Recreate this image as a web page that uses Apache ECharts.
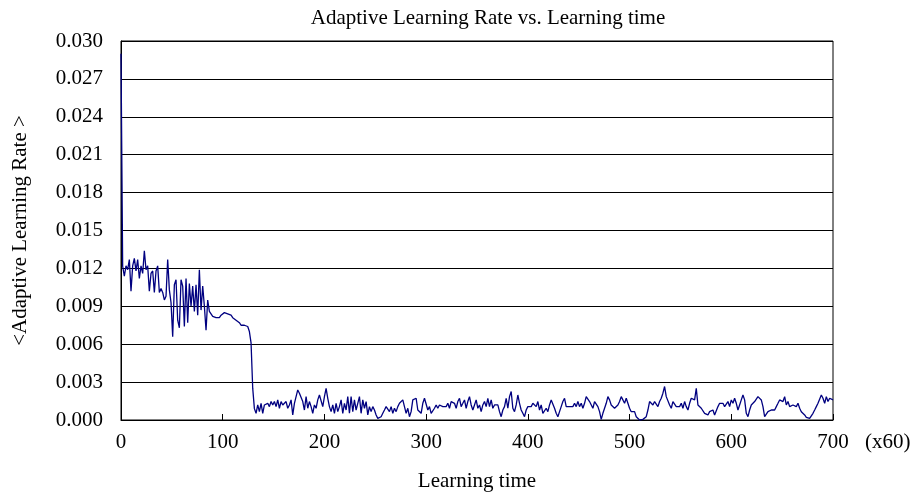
<!DOCTYPE html>
<html>
<head>
<meta charset="utf-8">
<script src="https://cdn.jsdelivr.net/npm/echarts@6/dist/echarts.min.js"></script>
<style>html,body{margin:0;padding:0;background:#fff;}#c{width:910px;height:493px;}</style>
</head>
<body>
<div id="c"></div>
<script>
// Sampling: 428 samples evenly spread over 0..700 (x60) learning time
const T_MAX = 700;
const xTicks = [0, 100, 200, 300, 400, 500, 600, 700];
const yTicks = [0, 0.003, 0.006, 0.009, 0.012, 0.015, 0.018, 0.021, 0.024, 0.027, 0.030];
const titleText = 'Adaptive Learning Rate vs. Learning time';
const xName = 'Learning time';
const yName = '<Adaptive Learning Rate >';
const xUnit = '(x60)';

// learning time 0 .. ~131: initial spike, noisy phase, smooth plateau, drop
const rateStart = [0.0290,
 0.01217, 0.01138, 0.0122, 0.0119, 0.0127, 0.0102, 0.0122, 0.0128, 0.0118, 0.0127,
 0.0112, 0.0122, 0.0116, 0.0134, 0.0119, 0.0122, 0.0102, 0.0116, 0.0118, 0.0101,
 0.0118, 0.0122, 0.0101, 0.0104, 0.0101, 0.0095, 0.0098, 0.0127, 0.0103, 0.0093,
 0.0066, 0.0107, 0.0111, 0.0079, 0.0073, 0.0111, 0.0106, 0.0074, 0.0112, 0.0077,
 0.0108, 0.0090, 0.0106, 0.0086, 0.0107, 0.0083, 0.0119, 0.0087, 0.0106, 0.0090,
 0.0071, 0.0095, 0.0086, 0.0085, 0.0082, 0.0083, 0.0081, 0.0080, 0.0081, 0.0083,
 0.0083, 0.0085, 0.0085, 0.0084, 0.0083, 0.0083, 0.0081, 0.0080, 0.0079, 0.0078,
 0.0077, 0.0075, 0.0075, 0.0075, 0.0074, 0.0074, 0.0070, 0.0061, 0.0025, 0.0009];

// learning time ~133 .. ~262
const rateLow1 = [
 0.00053, 0.00119, 0.00066, 0.00132, 0.00053, 0.00119, 0.00106, 0.00132, 0.00106, 0.00146,
 0.00119, 0.00146, 0.00106, 0.00159, 0.00093, 0.00146, 0.00119, 0.00132, 0.00146, 0.00093,
 0.00119, 0.00159, 0.0004, 0.00132, 0.00185, 0.00238, 0.00212, 0.00225, 0.00146, 0.00079,
 0.00185, 0.00093, 0.00146, 0.00106, 0.00053, 0.00119, 0.00093, 0.00159, 0.00198, 0.00212,
 0.00106, 0.00185, 0.00251, 0.00172, 0.00106, 0.00066, 0.00119, 0.00053, 0.00132, 0.00066,
 0.00106, 0.00159, 0.00053, 0.00132, 0.00079, 0.00185, 0.00053, 0.00185, 0.00066, 0.00159,
 0.00079, 0.00132, 0.00185, 0.00053, 0.00159, 0.00093, 0.00146, 0.0004, 0.00106, 0.00066,
 0.00106, 0.00079, 0.0004, 0.00013, 0.00005, 0.00026, 0.00053, 0.00079, 0.00106, 0.00119];

// learning time ~264 .. ~405
const rateLow2 = [
 0.00066, 0.00106, 0.00053, 0.00093, 0.00066, 0.00106, 0.00132, 0.00146, 0.00159, 0.00106,
 0.00053, 0.00093, 0.00026, 0.00066, 0.00159, 0.00172, 0.00172, 0.00079, 0.00066, 0.00053,
 0.00132, 0.00172, 0.00159, 0.00079, 0.00106, 0.00053, 0.00066, 0.00093, 0.00119, 0.00093,
 0.00119, 0.00106, 0.00106, 0.00119, 0.00106, 0.00132, 0.00093, 0.00146, 0.00159, 0.00132,
 0.00093, 0.00146, 0.00172, 0.00106, 0.00132, 0.00159, 0.00093, 0.00146, 0.00185, 0.00119,
 0.00079, 0.00119, 0.00159, 0.00093, 0.00119, 0.00066, 0.00119, 0.00146, 0.00106, 0.00172,
 0.00106, 0.00159, 0.00093, 0.00119, 0.00106, 0.00119, 0.00066, 0.00026, 0.00079, 0.00106,
 0.00172, 0.00093, 0.00185, 0.00225, 0.00093, 0.00066, 0.00119, 0.00198, 0.00132, 0.00079,
 0.00053, 0.00026, 0.00079, 0.00106, 0.00119, 0.00106, 0.00132];

// learning time ~407 .. ~548
const rateLow3 = [
 0.00132, 0.00106, 0.00146, 0.00079, 0.00119, 0.00053, 0.0004, 0.00093, 0.00066, 0.00119,
 0.00159, 0.00146, 0.00093, 0.00053, 0.00026, 0.00066, 0.00106, 0.00146, 0.00172, 0.00106,
 0.00119, 0.00106, 0.00119, 0.00106, 0.00132, 0.00106, 0.00146, 0.00106, 0.00132, 0.00093,
 0.00132, 0.00185, 0.00172, 0.00146, 0.00132, 0.00093, 0.00146, 0.00132, 0.00106, 0.00066,
 0.00005, 0.00053, 0.00093, 0.00132, 0.00185, 0.00159, 0.00119, 0.00132, 0.00093, 0.00079,
 0.00119, 0.00146, 0.00185, 0.00159, 0.00132, 0.00172, 0.00132, 0.00093, 0.00066, 0.00053,
 0.00066, 0.00026, 0.00032, 0, 0, 0.00005, 0, 0.00026, 0.00079, 0.00146,
 0.00132, 0.00119, 0.00146, 0.00132, 0.00106, 0.00146, 0.00172, 0.00212, 0.00265, 0.00185,
 0.00172, 0.00119, 0.00093, 0.00146, 0.00132, 0.00106, 0.00119];

// learning time ~549 .. 700
const rateLow4 = [
 0.00106, 0.00132, 0.00093, 0.00146, 0.00106, 0.00079, 0.00132, 0.00172, 0.00185, 0.00159,
 0.00251, 0.00119, 0.00132, 0.00093, 0.00106, 0.00053, 0.00066, 0.0004, 0.00066, 0.00053,
 0.00079, 0.0004, 0.00026, 0.00106, 0.00132, 0.00119, 0.00132, 0.00106, 0.00119, 0.00146,
 0.00106, 0.00159, 0.00132, 0.00172, 0.00132, 0.00079, 0.00119, 0.00159, 0.00198, 0.00159,
 0.00053, 0.00026, 0.00079, 0.00119, 0.00106, 0.00146, 0.00159, 0.00185, 0.00198, 0.00159,
 0.00106, 0.00026, 0.0004, 0.00066, 0.00053, 0.00079, 0.00093, 0.00079, 0.00106, 0.00132,
 0.00159, 0.00159, 0.00146, 0.00185, 0.00119, 0.00146, 0.00106, 0.00093, 0.00119, 0.00132,
 0.00106, 0.00132, 0.00093, 0.00066, 0.00053, 0.0004, 0.00021, 0.00026, 0.00013, 0.00026,
 0.00053, 0.00079, 0.00106, 0.00132, 0.00146, 0.00198, 0.00172, 0.00132, 0.00185, 0.00146,
 0.00172, 0.00159, 0.00159];

const rate = [].concat(rateStart, rateLow1, rateLow2, rateLow3, rateLow4);
const step = T_MAX / (rate.length - 1);
const seriesData = rate.map((v, i) => [i * step, v]);

const FONT = "'Liberation Serif', 'Times New Roman', serif";
const chart = echarts.init(document.getElementById('c'), null, {renderer: 'canvas'});
chart.setOption({
  animation: false,
  backgroundColor: '#fff',
  title: {
    text: titleText,
    left: 483, top: 3, textAlign: 'center',
    textStyle: {fontFamily: FONT, fontSize: 21, fontWeight: 'normal', color: '#000'}
  },
  grid: {left: 121, right: 77, top: 41, bottom: 73, show: true, borderColor: '#000', borderWidth: 1,
         containLabel: false, outerBoundsMode: 'none'},
  xAxis: {
    type: 'value', min: xTicks[0], max: xTicks[xTicks.length - 1], interval: 100,
    name: xName, nameLocation: 'middle', nameGap: 51,
    nameTextStyle: {fontFamily: FONT, fontSize: 21, color: '#000'},
    axisLine: {show: true, lineStyle: {color: '#000', width: 1}},
    axisTick: {show: true, inside: true, length: 6, lineStyle: {color: '#000'}},
    axisLabel: {fontFamily: FONT, fontSize: 21, color: '#000', margin: 12},
    splitLine: {show: false}
  },
  yAxis: {
    type: 'value', min: yTicks[0], max: yTicks[yTicks.length - 1], interval: 0.003,
    name: yName, nameLocation: 'middle', nameGap: 90, nameRotate: 90,
    nameTextStyle: {fontFamily: FONT, fontSize: 21, color: '#000'},
    axisLine: {show: true, lineStyle: {color: '#000', width: 1}},
    axisTick: {show: true, inside: true, length: 6, lineStyle: {color: '#000'}},
    axisLabel: {fontFamily: FONT, fontSize: 21, color: '#000', margin: 18,
      formatter: v => v.toFixed(3)},
    splitLine: {show: true, lineStyle: {color: '#000', width: 1}}
  },
  graphic: [{
    type: 'text', left: 865, top: 432,
    style: {text: xUnit, fontFamily: FONT, fontSize: 21, fill: '#000'}
  }],
  series: [{
    type: 'line', data: seriesData, showSymbol: false, symbol: 'none',
    sampling: 'none', smooth: false,
    lineStyle: {color: '#000080', width: 1.3}
  }]
});
</script>
</body>
</html>
